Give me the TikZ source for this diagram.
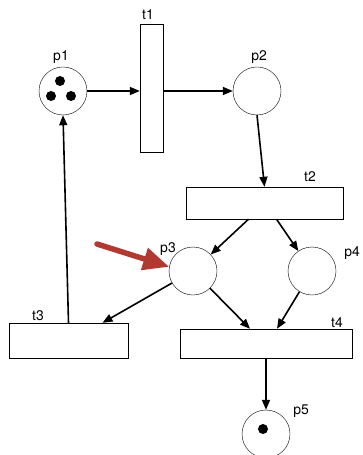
\documentclass[tikz,border=0pt]{standalone}
\usepackage{fontspec}
\setmainfont{TeX Gyre Heros}
\usetikzlibrary{arrows.meta, calc, positioning}
\definecolor{HintRed}{RGB}{176,58,50}
\tikzset{
	place-node/.style={
		circle,
		draw=black, thin,
		minimum size=48bp,
		inner sep=0pt,
	},
	transition-node/.style={
		rectangle,
		draw=black, thin,
		inner sep=0pt,
	},
	token-node/.style={circle, fill=black, minimum size=10bp, inner sep=0pt},
	name-node/.style={anchor=base, inner sep=0pt, font=\fontsize{14}{16}\selectfont},
	arc-style/.style   = {line width=1.6bp, -{Triangle[length=10bp,width=8bp]}},
	hint-style/.style  = {draw=HintRed, line width=5.5bp, line cap=round, -{Triangle[length=26bp,width=22bp]}},
}

\begin{document}
\begin{tikzpicture}[x=1bp,y=-1bp]
	\useasboundingbox (0,0) rectangle (362,455);
	% places
	\node (p1)[place-node] at (63,91) {};
	\node (p2)[place-node] at (257,91) {};
	\node (p3)[place-node] at (193,271) {};
	\node (p4)[place-node] at (312,271) {};
	\node (p5)[place-node] at (266,434) {};
	% transitions
	\node (t1)[transition-node, minimum width=23bp, minimum height=128bp] at (151.5,88) {};
	\node (t2)[transition-node, minimum width=157bp, minimum height=32bp] at (264.5,203) {};
	\node (t3)[transition-node, minimum width=119bp, minimum height=35bp] at (68.5,340.5) {};
	\node (t4)[transition-node, minimum width=172bp, minimum height=29bp] at (266,343.5) {};
	% tokens
	\foreach \tx/\ty [count=\i] in {60/81, 51/96, 71/96}
		\node (tok\i)[token-node] at (\tx,\ty) {};
	\node (tok4)[token-node] at (263,429) {};
	% names
	\node (n-p1)[name-node] at (61,61) {p1};
	\node (n-t1)[name-node] at (148,20) {t1};
	\node (n-p2)[name-node] at (259,61) {p2};
	\node (n-t2)[name-node] at (310,182) {t2};
	\node (n-p3)[name-node] at (168,252) {p3};
	\node (n-p4)[name-node] at (352,256) {p4};
	\node (n-t3)[name-node] at (38,320) {t3};
	\node (n-t4)[name-node] at (337,327) {t4};
	\node (n-p5)[name-node] at (301,414) {p5};
	% arcs
	\draw[arc-style] (p1) -- (p1 -| t1.west);
	\draw[arc-style] (t1.east |- p2) -- (p2);
	\draw[arc-style] (p2.south) -- (t2.north);
	\draw[arc-style] ([xshift=-16bp]t2.south) -- (p3);
	\draw[arc-style] ([xshift=12bp]t2.south) -- (p4);
	\draw[arc-style] (p3) -- ([xshift=34bp]t3.north);
	\draw[arc-style] (p3) -- ([xshift=-16bp]t4.north);
	\draw[arc-style] (p4) -- ([xshift=11bp]t4.north);
	\draw[arc-style] (t4.south) -- (p5);
	\draw[arc-style] (t3.north) -- (p1.south);
	% marker
	\coordinate (hint) at (97,244);
	\draw[hint-style] (hint) -- (p3.170);
\end{tikzpicture}
\end{document}
